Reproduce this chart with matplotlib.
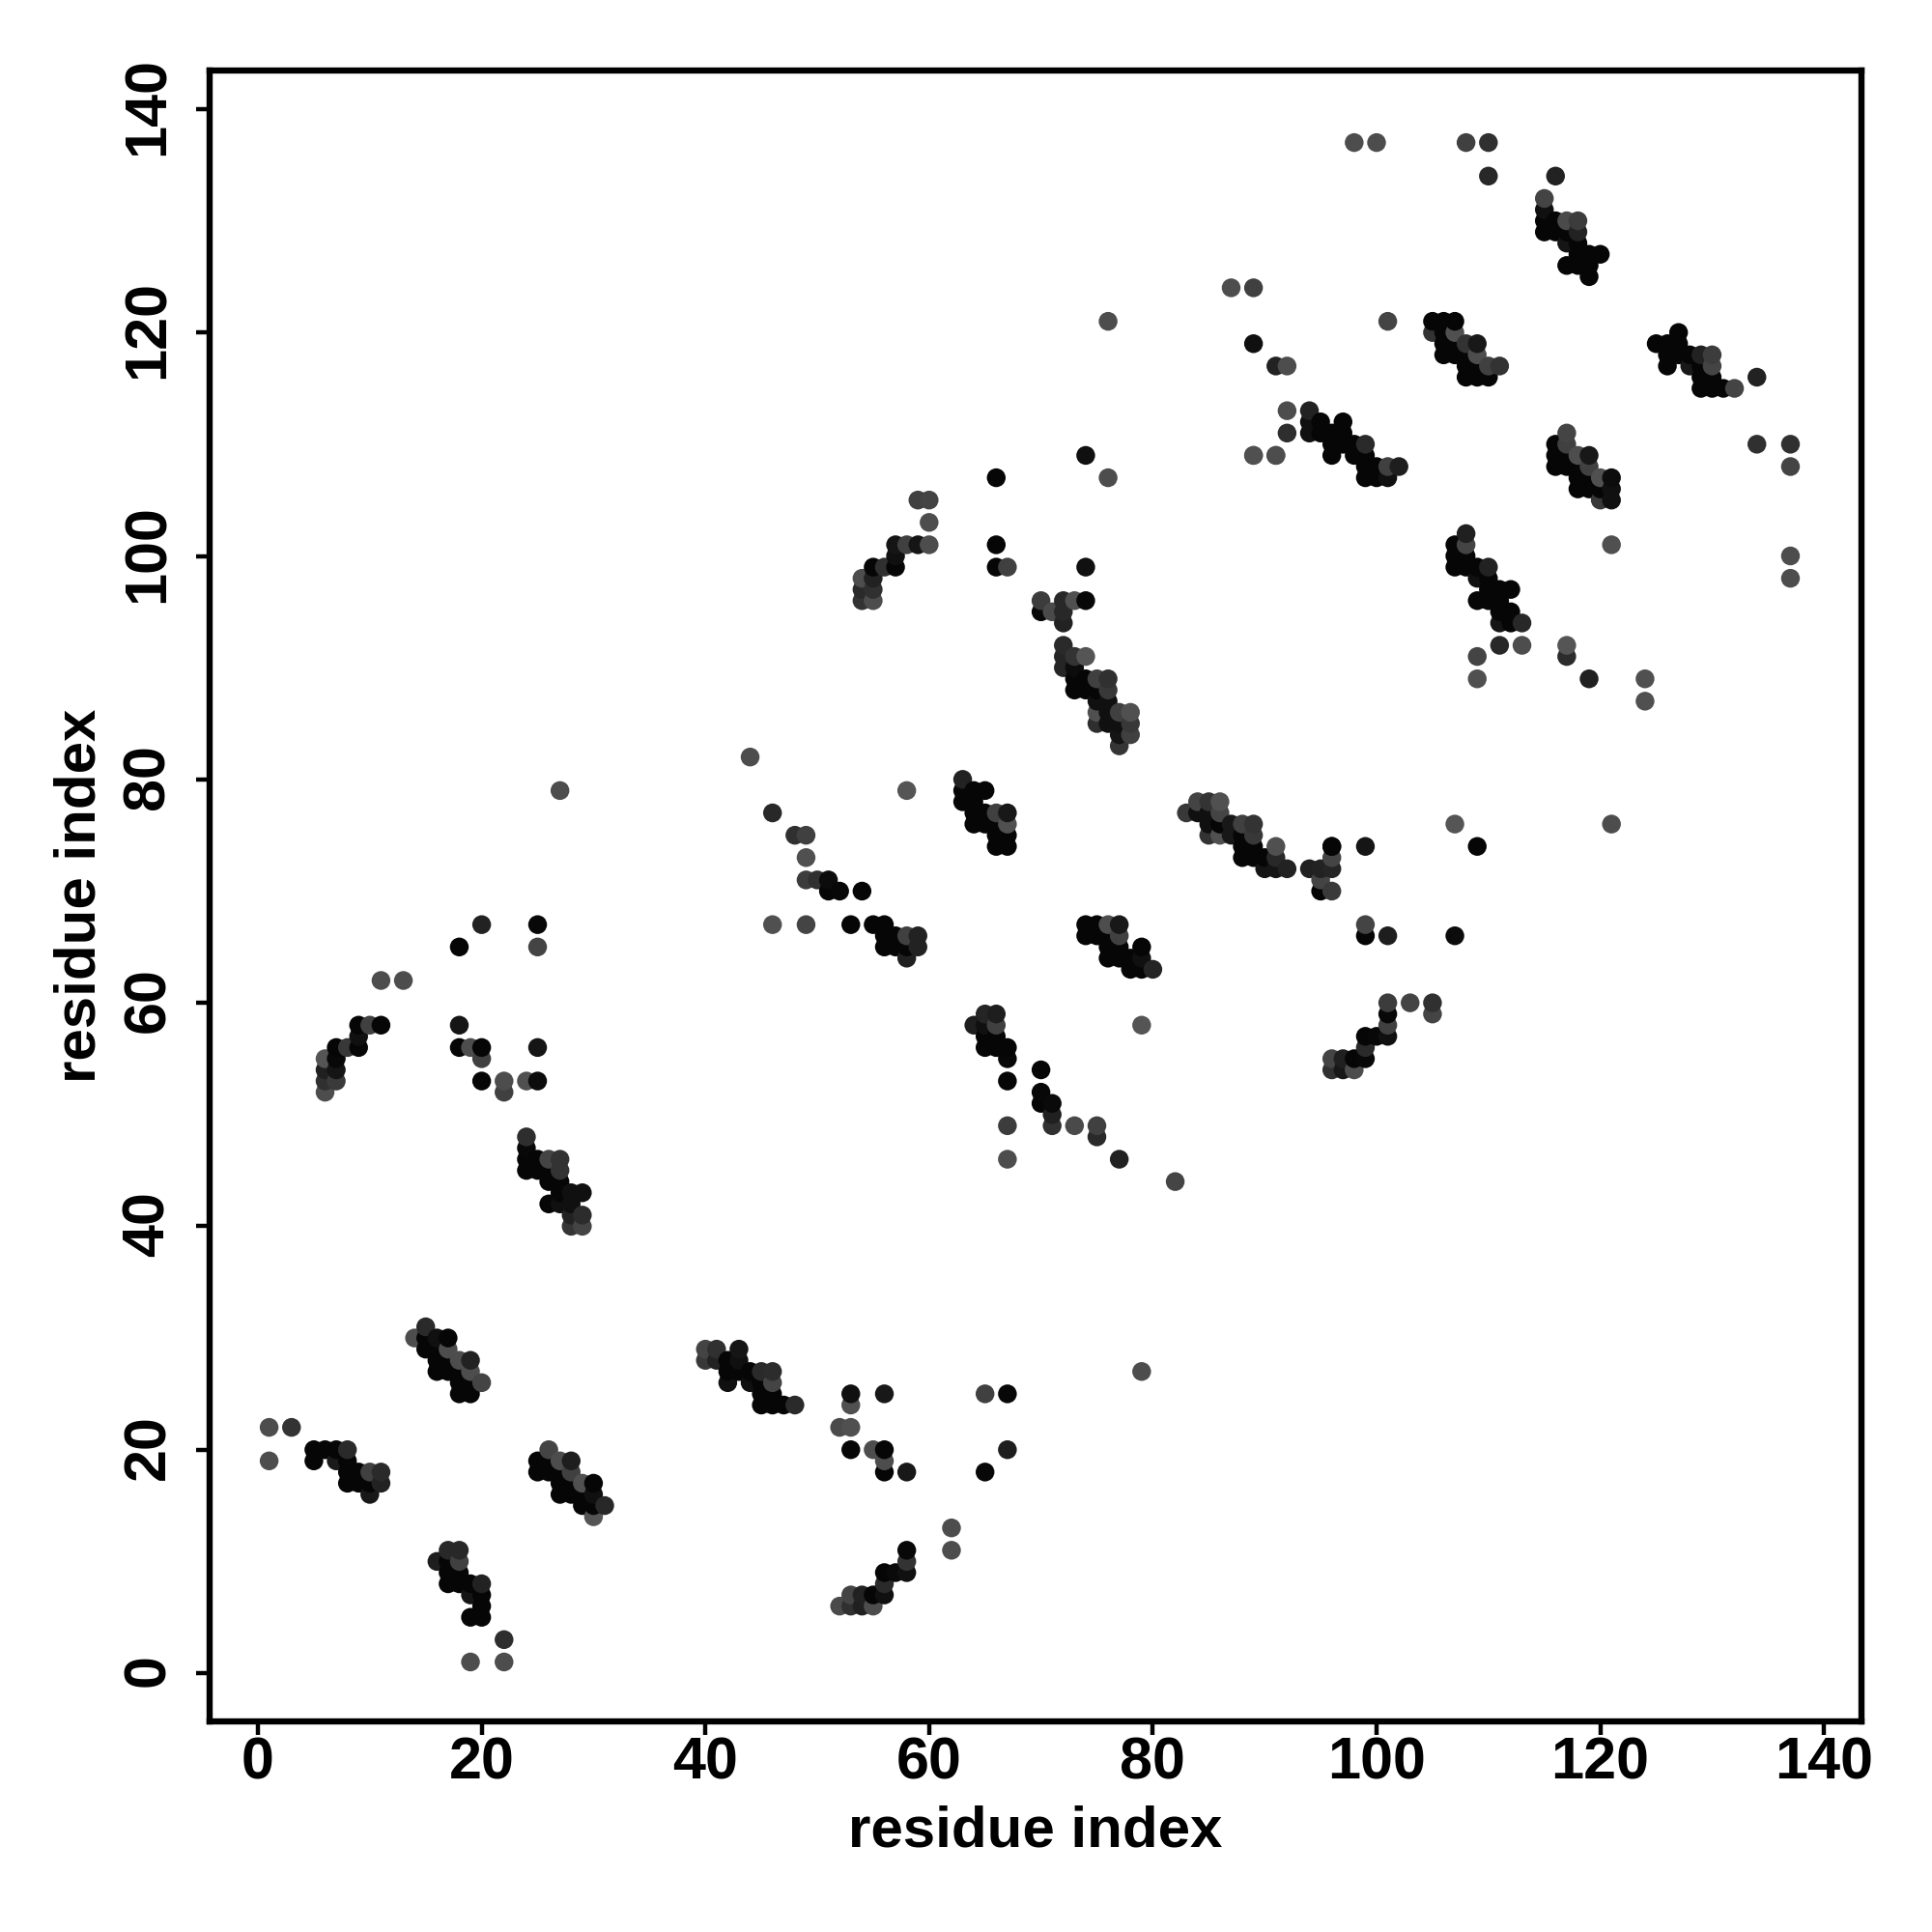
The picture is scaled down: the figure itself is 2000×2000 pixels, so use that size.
import numpy as np
import matplotlib
matplotlib.use('Agg')
import matplotlib.pyplot as plt
from matplotlib.transforms import ScaledTranslation

plt.rcParams['font.family'] = ['Liberation Sans', 'DejaVu Sans']

# residue pairs, cluster by cluster, g = grey level of the dot
K = 0x06

x_a = [5, 6, 7, 8, 5, 7, 8, 8, 9, 10, 11, 8, 9, 10, 11, 10]
y_a = [20, 20, 20, 20, 19, 19, 19, 18, 18, 18, 18, 17, 17, 17, 17, 16]
g_a = [K, K, K, 0x2a, K, 0x1a, K, K, K, 0x40, 0x2a, K, K, K, 0x22, 0x18]

x_b = [15, 14, 15, 16, 17, 15, 16, 17, 16, 17, 18, 19, 16, 17, 18, 19, 18, 19, 20, 18, 19]
y_b = [31, 30, 30, 30, 30, 29, 29, 29, 28, 28, 28, 28, 27, 27, 27, 27, 26, 26, 26, 25, 25]
g_b = [0x2a, 0x4d, K, 0x10, K, K, K, 0x4d, K, K, 0x4d, 0x22, K, K, K, 0x4d, K, K, 0x44, K, K]

x_c = [26, 25, 26, 27, 28, 25, 26, 27, 28, 27, 28, 29, 30, 27, 28, 29, 30, 29, 30, 31, 30]
y_c = [20, 19, 19, 19, 19, 18, 18, 18, 18, 17, 17, 17, 17, 16, 16, 16, 16, 15, 15, 15, 14]
g_c = [0x44, K, K, 0x4d, 0x1e, K, K, K, 0x40, K, K, 0x50, K, K, K, K, 0x10, K, K, 0x28, 0x55]

x_d = [17, 18, 16, 17, 18, 17, 18, 17, 18, 19, 20, 19, 20, 20, 19, 20]
y_d = [11, 11, 10, 10, 10, 9, 9, 8, 8, 8, 8, 7, 7, 6, 5, 5]
g_d = [0x28, 0x28, 0x1e, K, 0x40, K, K, K, K, K, 0x22, 0x15, K, K, K, K]

x_e = [40, 41, 43, 40, 41, 42, 43, 42, 43, 44, 45, 46, 42, 44, 45, 46, 45, 46, 45, 46, 47, 48]
y_e = [29, 29, 29, 28, 28, 28, 28, 27, 27, 27, 27, 27, 26, 26, 26, 26, 25, 25, 24, 24, 24, 24]
g_e = [0x44, 0x30, 0x15, 0x38, 0x22, K, 0x10, K, K, K, 0x2a, 0x2c, 0x10, 0x10, K, 0x44, K, K, K, K, K, 0x2a]

x_f = [58, 58, 56, 57, 58, 56, 53, 54, 55, 56, 52, 53, 54, 55]
y_f = [11, 10, 9, 9, 9, 8, 7, 7, 7, 7, 6, 6, 6, 6]
g_f = [0x08, 0x33, K, 0x0a, 0x10, 0x2a, 0x44, 0x22, K, 0x10, 0x4a, 0x30, 0x20, 0x4d]

x_g = [9, 10, 11, 9, 7, 8, 9, 6, 7, 6, 7, 6, 7, 6]
y_g = [58, 58, 58, 57, 56, 56, 56, 55, 55, 54, 54, 53, 53, 52]
g_g = [K, 0x40, K, 0x10, K, 0x38, K, 0x55, 0x08, 0x20, 0x15, 0x30, 0x3a, 0x4d]

x_h = [24, 24, 24, 25, 26, 27, 24, 25, 26, 27, 26, 27, 27, 28, 29, 26, 27, 28, 28, 29, 28, 29]
y_h = [48, 47, 46, 46, 46, 46, 45, 45, 45, 45, 44, 44, 43, 43, 43, 42, 42, 42, 41, 41, 40, 40]
g_h = [0x2e, 0x08, K, K, 0x44, 0x33, K, K, K, 0x33, K, K, K, 0x10, 0x10, K, 0x10, 0x10, 0x22, 0x2c, 0x35, 0x44]

x_i = [48, 49, 49, 49, 50, 51, 51, 52, 54, 53, 55, 56, 56, 57, 58, 59, 56, 57, 58, 59, 58]
y_i = [75, 75, 73, 71, 71, 71, 70, 70, 70, 67, 67, 67, 66, 66, 66, 66, 65, 65, 65, 65, 64]
g_i = [0x30, 0x40, 0x50, 0x3c, 0x30, 0x0c, K, 0x08, K, K, K, K, K, K, 0x40, 0x22, K, K, K, 0x22, 0x20]

x_j = [63, 63, 64, 65, 63, 64, 64, 65, 66, 67, 64, 65, 66, 67, 66, 67, 66, 67]
y_j = [80, 79, 79, 79, 78, 78, 77, 77, 77, 77, 76, 76, 76, 76, 75, 75, 74, 74]
g_j = [0x22, K, K, K, K, K, K, K, 0x40, 0x18, K, K, K, 0x50, K, K, K, K]

x_k = [74, 75, 76, 77, 74, 75, 76, 77, 76, 77, 79, 76, 77, 78, 79, 78, 79, 80]
y_k = [67, 67, 67, 67, 66, 66, 66, 66, 65, 65, 65, 64, 64, 64, 64, 63, 63, 63]
g_k = [K, K, 0x4d, 0x18, K, K, K, 0x40, K, K, K, K, K, K, 0x10, K, K, 0x25]

x_l = [65, 66, 64, 65, 66, 65, 66, 65, 66, 67, 67, 67, 70, 70, 70, 71, 71, 71]
y_l = [59, 59, 58, 58, 58, 57, 57, 56, 56, 56, 55, 53, 54, 52, 51, 51, 50, 49]
g_l = [0x25, 0x1e, 0x1e, 0x10, 0x40, K, K, K, K, K, 0x08, K, K, 0x08, K, 0x0a, 0x20, 0x30]

x_m = [84, 85, 86, 83, 84, 85, 86, 85, 86, 87, 88, 89, 85, 86, 87, 88, 89, 88, 89, 91, 88, 89, 90, 91, 90, 91, 92]
y_m = [78, 78, 78, 77, 77, 77, 77, 76, 76, 76, 76, 76, 75, 75, 75, 75, 75, 74, 74, 74, 73, 73, 73, 73, 72, 72, 72]
g_m = [0x44, 0x33, 0x50, 0x38, 0x10, 0x10, 0x44, 0x10, K, 0x18, 0x40, 0x33, 0x33, 0x50, 0x18, K, 0x38,
       K, K, 0x50, K, K, K, 0x28, 0x15, 0x15, 0x22]

x_n = [96, 96, 94, 95, 96, 95, 95, 96]
y_n = [74, 73, 72, 72, 72, 71, 70, 70]
g_n = [K, 0x44, 0x20, 0x22, 0x25, 0x44, 0x05, 0x3a]

x_o = [101, 101, 101, 99, 100, 101, 99, 96, 97, 98, 99, 96, 97, 98]
y_o = [60, 59, 58, 57, 57, 57, 56, 55, 55, 55, 55, 54, 54, 54]
g_o = [0x3c, 0x08, 0x40, K, 0x08, 0x10, 0x2a, 0x44, 0x20, K, 0x08, 0x30, 0x18, 0x4d]

x_p = [70, 72, 73, 74, 70, 71, 72, 72, 72, 72, 73, 74, 72, 73, 73, 74, 75, 76, 73, 74, 75, 76,
       75, 76, 75, 76, 77, 78, 75, 76, 77, 78, 77, 78, 77]
y_p = [96, 96, 96, 96, 95, 95, 95, 94, 92, 91, 91, 91, 90, 90, 89, 89, 89, 89, 88, 88, 88, 88,
       87, 87, 86, 86, 86, 86, 85, 85, 85, 85, 84, 84, 83]
g_p = [0x3c, 0x28, 0x50, 0x08, 0x08, 0x4a, 0x28, 0x22, 0x2a, 0x25, 0x33, 0x55, 0x25, 0x0c, K, K, 0x40, 0x30,
       K, K, K, 0x38, 0x10, 0x10, 0x50, 0x10, 0x40, 0x50, 0x2e, 0x10, 0x10, 0x38, 0x15, 0x40, 0x35]

x_q = [108, 107, 108, 107, 108, 107, 108, 109, 110, 109, 110, 110, 111, 112, 109, 110, 111, 111, 112, 111, 112, 113]
y_q = [102, 101, 101, 100, 100, 99, 99, 99, 99, 98, 98, 97, 97, 97, 96, 96, 96, 95, 95, 94, 94, 94]
g_q = [0x20, K, 0x44, K, K, K, K, K, 0x22, 0x10, K, K, K, K, K, K, K, K, K, 0x15, K, 0x28]

x_r = [94, 94, 95, 97, 94, 95, 96, 97, 96, 97, 98, 99, 96, 98, 99, 99, 100, 101, 102, 99, 100, 101]
y_r = [113, 112, 112, 112, 111, 111, 111, 111, 110, 110, 110, 110, 109, 109, 109, 108, 108, 108, 108, 107, 107, 107]
g_r = [0x22, 0x10, K, K, 0x10, K, K, K, K, K, K, 0x2a, K, K, K, K, K, 0x40, 0x1e, K, K, 0x10]

x_s = [117, 116, 117, 116, 117, 118, 119, 116, 117, 118, 119, 118, 119, 120, 121, 118, 119, 120, 121, 120, 121]
y_s = [111, 110, 110, 109, 109, 109, 109, 108, 108, 108, 108, 107, 107, 107, 107, 106, 106, 106, 106, 105, 105]
g_s = [0x44, K, 0x40, K, K, 0x4d, 0x18, K, K, K, 0x40, K, K, 0x50, 0x0c, K, K, K, 0x10, 0x38, 0x10]

x_t = [105, 106, 107, 105, 106, 107, 106, 107, 108, 109, 106, 107, 108, 109, 108, 109, 110, 111, 108, 109, 110]
y_t = [121, 121, 121, 120, 120, 120, 119, 119, 119, 119, 118, 118, 118, 118, 117, 117, 117, 117, 116, 116, 116]
g_t = [K, K, K, 0x33, K, 0x50, K, K, 0x33, 0x18, K, K, K, 0x4d, K, K, 0x40, 0x33, K, K, K]

x_u = [115, 115, 115, 116, 117, 118, 115, 116, 117, 118, 117, 118, 118, 119, 120, 117, 118, 119, 119]
y_u = [132, 131, 130, 130, 130, 130, 129, 129, 129, 129, 128, 128, 127, 127, 127, 126, 126, 126, 125]
g_u = [0x44, 0x10, K, K, 0x4a, 0x3c, K, K, K, 0x22, 0x15, K, K, K, K, K, K, K, K]

x_v = [127, 125, 126, 127, 126, 127, 128, 129, 130, 126, 128, 129, 130, 129, 130, 129, 130, 131, 132]
y_v = [120, 119, 119, 119, 118, 118, 118, 118, 118, 117, 117, 117, 117, 116, 116, 115, 115, 115, 115]
g_v = [K, K, K, K, K, K, K, 0x22, 0x3c, K, 0x18, K, 0x44, K, K, K, K, K, 0x44]

x_w = [59, 60, 60, 57, 58, 59, 60, 57, 55, 56, 57, 54, 55, 54, 55, 54, 55]
y_w = [105, 105, 103, 101, 101, 101, 101, 100, 99, 99, 99, 98, 98, 97, 97, 96, 96]
g_w = [0x40, 0x44, 0x4d, 0x15, 0x40, 0x15, 0x4d, 0x10, K, 0x30, K, 0x4d, 0x22, 0x2a, 0x30, 0x33, 0x4d]

# the scattered dots away from the diagonals
x_iso = [1, 3, 1, 22, 19, 22, 53, 53, 56, 52, 53, 53, 55, 56, 56, 56, 58, 65, 67, 67, 65, 79, 62, 62,
         20, 25, 18, 25, 11, 13, 18, 18, 19, 20, 25, 20, 20, 22, 24, 25, 22, 44, 58, 46, 27, 46, 49,
         79, 67, 73, 75, 75, 67, 77, 82, 96, 99, 107, 109, 99, 99, 101, 107, 103, 105, 105,
         92, 92, 91, 89, 121, 117, 109, 111, 113, 117, 109, 119, 124, 124, 116, 134, 137, 134, 137,
         98, 100, 108, 110, 110, 87, 89, 76, 101, 89, 91, 92, 89, 91, 74, 76, 66, 66, 66, 67, 74, 137, 137, 121]
y_iso = [22, 22, 19, 3, 1, 1, 25, 24, 25, 22, 22, 20, 20, 20, 19, 18, 18, 25, 25, 20, 18, 27, 13, 11,
         67, 67, 65, 65, 62, 62, 58, 56, 56, 56, 56, 55, 53, 53, 53, 53, 52, 82, 79, 77, 79, 67, 67,
         58, 49, 49, 49, 48, 46, 46, 44, 74, 74, 76, 74, 67, 66, 66, 66, 60, 60, 59,
         113, 111, 109, 109, 101, 92, 91, 92, 92, 91, 89, 89, 89, 87, 134, 116, 110, 110, 108,
         137, 137, 137, 137, 134, 124, 124, 121, 121, 119, 117, 117, 109, 109, 109, 107, 107, 101, 99, 99, 99, 100, 98, 76]
g_iso = [0x4d, 0x33, 0x4d, 0x2e, 0x4d, 0x4d, 0x10, 0x50, 0x18, 0x4a, 0x50, K, 0x4d, K, 0x4d, K, 0x18, 0x40, 0x08, 0x1e, 0x08, 0x4d, 0x4d, 0x4d,
         0x22, 0x08, K, 0x44, 0x4d, 0x4d, 0x15, K, 0x4d, K, 0x15, 0x40, K, 0x4d, 0x50, 0x0c, 0x40, 0x4d, 0x55, 0x28, 0x4d, 0x50, 0x44,
         0x55, 0x3c, 0x4a, 0x40, 0x2a, 0x4d, 0x22, 0x45, K, 0x15, 0x55, K, 0x44, K, 0x1e, 0x0c, 0x44, 0x30, 0x44,
         0x4d, 0x2e, 0x4d, 0x50, 0x50, 0x55, 0x44, 0x28, 0x4d, 0x2c, 0x50, 0x20, 0x50, 0x50, 0x22, 0x22, 0x30, 0x30, 0x44,
         0x4d, 0x4d, 0x40, 0x30, 0x28, 0x4d, 0x40, 0x4d, 0x44, 0x10, 0x22, 0x4d, 0x50, 0x4d, 0x10, 0x4d, K, K, K, 0x40, 0x10, 0x4d, 0x4d, 0x4d]

tick_vals = [0, 20, 40, 60, 80, 100, 120, 140]

xs = np.array(x_a + x_b + x_c + x_d + x_e + x_f + x_g + x_h + x_i + x_j + x_k + x_l + x_m + x_n + x_o
              + x_p + x_q + x_r + x_s + x_t + x_u + x_v + x_w + x_iso)
ys = np.array(y_a + y_b + y_c + y_d + y_e + y_f + y_g + y_h + y_i + y_j + y_k + y_l + y_m + y_n + y_o
              + y_p + y_q + y_r + y_s + y_t + y_u + y_v + y_w + y_iso)
gs = np.array(g_a + g_b + g_c + g_d + g_e + g_f + g_g + g_h + g_i + g_j + g_k + g_l + g_m + g_n + g_o
              + g_p + g_q + g_r + g_s + g_t + g_u + g_v + g_w + g_iso)

# the dots overlap: column by column, higher residue on top
order = np.lexsort((ys, xs))
colors = [(g / 255, g / 255, g / 255) for g in gs[order]]

fig = plt.figure(figsize=(10, 10), dpi=200)
ax = fig.add_axes([0.1085, 0.109, 0.855, 0.8545])
ax.scatter(xs[order], ys[order], s=49, c=colors, linewidths=0, clip_on=True)

ax.set_xlim(-4.32, 143.35)
ax.set_ylim(-4.32, 143.45)
ax.set_xticks(tick_vals)
ax.set_yticks(tick_vals)
ax.tick_params(axis='both', length=5, width=1.6, labelsize=22)
ax.tick_params(axis='x', pad=0.5)
ax.tick_params(axis='y', pad=17.5)
nudge = ScaledTranslation(0, 1 / 72, fig.dpi_scale_trans)
for lab in ax.get_xticklabels():
    lab.set_fontweight('bold')
for lab in ax.get_yticklabels():
    lab.set_fontweight('bold')
    lab.set_rotation(90)
    lab.set_va('center')
    lab.set_rotation_mode('anchor')
    lab.set_ha('center')
    lab.set_transform(lab.get_transform() + nudge)
for sp in ax.spines.values():
    sp.set_linewidth(2.3)

ax.set_xlabel('residue index', fontsize=21.6, fontweight='bold', labelpad=5)
ax.set_ylabel('residue index', fontsize=21.6, fontweight='bold', labelpad=5.5)

fig.savefig('out.png', dpi=200)
